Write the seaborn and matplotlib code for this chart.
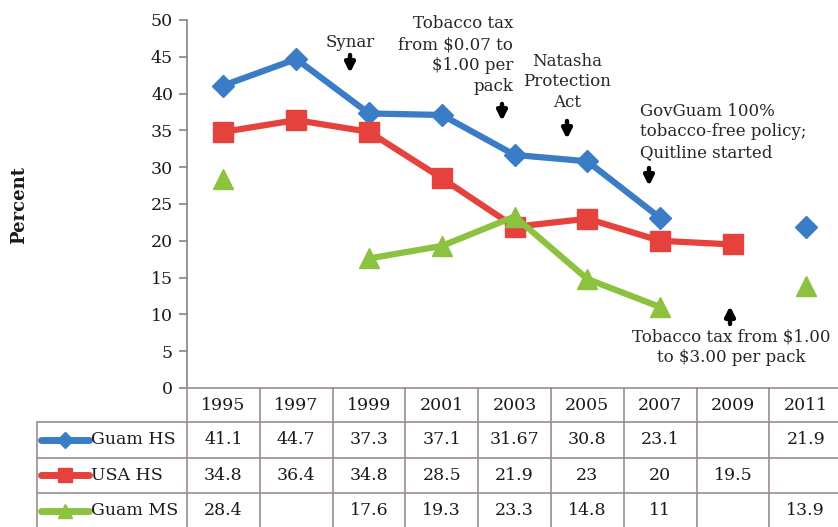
import numpy as np
import pandas as pd
import matplotlib
matplotlib.use("Agg")
import matplotlib.pyplot as plt
import seaborn as sns

# ---------------- data ----------------
years = ["1995", "1997", "1999", "2001", "2003", "2005", "2007", "2009", "2011"]
guam_hs = [41.1, 44.7, 37.3, 37.1, 31.67, 30.8, 23.1, np.nan, 21.9]
usa_hs = [34.8, 36.4, 34.8, 28.5, 21.9, 23, 20, 19.5, np.nan]
guam_ms = [28.4, np.nan, 17.6, 19.3, 23.3, 14.8, 11, np.nan, 13.9]
series_names = ["Guam HS", "USA HS", "Guam MS"]
series_values = [guam_hs, usa_hs, guam_ms]
colors = ["#3b7cc6", "#e5423e", "#8cc23f"]
markers = ["D", "s", "^"]
msizes = [11, 14, 14]
y_ticks = [0, 5, 10, 15, 20, 25, 30, 35, 40, 45, 50]

FONT = "DejaVu Serif"
FS = 12

sns.set_theme(style="white")
plt.rcParams["font.family"] = [FONT, "DejaVu Sans"]

W, H = 838, 527
fig = plt.figure(figsize=(W / 100, H / 100), dpi=100)
fig.patch.set_facecolor("white")

PL, PT, PB = 187, 20, 388     # plot area in pixels
COLW = 72.8
ncol = len(years)
ax = fig.add_axes([PL / W, (H - PB) / H, COLW * ncol / W, (PB - PT) / H])
ax.set_facecolor("white")

# long data with segment ids (lines break at missing values)
rows = []
for name, vals in zip(series_names, series_values):
    seg = 0
    prev_nan = True
    for i, v in enumerate(vals):
        if np.isnan(v):
            prev_nan = True
            continue
        if prev_nan:
            seg += 1
        prev_nan = False
        rows.append({"series": name, "x": i, "value": v, "seg": seg})
df = pd.DataFrame(rows)

for name, c, m, ms in zip(series_names, colors, markers, msizes):
    sub = df[df["series"] == name]
    sns.lineplot(data=sub, x="x", y="value", units="seg", estimator=None,
                 color=c, marker=m, markersize=ms, markeredgecolor=c,
                 markeredgewidth=1, linewidth=4.5, ax=ax, legend=False,
                 sort=True)

ax.set_xlim(-0.5, ncol - 0.5)
ax.set_ylim(0, 50)
ax.set_yticks(y_ticks)
ax.set_yticklabels([str(t) for t in y_ticks], fontsize=FS + 0.5, color="#1a1a1a")
ax.set_xticks([])
ax.set_xlabel("")
ax.set_ylabel("")
for s in ["top", "right", "bottom"]:
    ax.spines[s].set_visible(False)
ax.spines["left"].set_color("#8c8282")
ax.spines["left"].set_linewidth(1.2)
ax.tick_params(axis="y", direction="out", length=6, width=1.2, color="#8c8282", pad=4, left=True)

fig.text(19 / W, 1 - 205 / H, "Percent", rotation=90, fontsize=FS + 1, fontweight="bold",
         ha="center", va="center", color="#1a1a1a")

# ---------------- annotations ----------------
def px2x(px):
    return -0.5 + (px - PL) / COLW

def py2y(py):
    return (PB - py) * 50 / (PB - PT)

arrow_kw = dict(arrowstyle="-|>", lw=3.2, color="black", mutation_scale=14, shrinkA=0, shrinkB=0)
LS = 1.3

ax.text(px2x(350), py2y(42), "Synar", fontsize=FS, ha="center", va="center")
ax.annotate("", xy=(px2x(350), py2y(73)), xytext=(px2x(350), py2y(55)), arrowprops=arrow_kw,
            annotation_clip=False)

ax.text(px2x(513), py2y(55), "Tobacco tax\nfrom $0.07 to\n$1.00 per\npack", fontsize=FS,
        ha="right", va="center", linespacing=LS)
ax.annotate("", xy=(px2x(502), py2y(121)), xytext=(px2x(502), py2y(104)), arrowprops=arrow_kw)

ax.text(px2x(567), py2y(82), "Natasha\nProtection\nAct", fontsize=FS,
        ha="center", va="center", linespacing=LS)
ax.annotate("", xy=(px2x(567), py2y(139)), xytext=(px2x(567), py2y(121)), arrowprops=arrow_kw)

ax.text(px2x(640), py2y(132), "GovGuam 100%\ntobacco-free policy;\nQuitline started", fontsize=FS,
        ha="left", va="center", linespacing=LS)
ax.annotate("", xy=(px2x(649), py2y(186)), xytext=(px2x(649), py2y(168)), arrowprops=arrow_kw)

ax.text(px2x(731), py2y(347), "Tobacco tax from $1.00\nto $3.00 per pack", fontsize=FS,
        ha="center", va="center", linespacing=LS)
ax.annotate("", xy=(px2x(730), py2y(306)), xytext=(px2x(730), py2y(324)), arrowprops=arrow_kw)

# ---------------- data table ----------------
tab = fig.add_axes([PL / W, 0, COLW * ncol / W, (H - PB) / H])
tab.set_xlim(-0.5, ncol - 0.5)
tab.set_ylim(H, PB)
tab.axis("off")

gc = "#9b8e8e"
glw = 1.2
row_edges = [PB, 422, 457.5, 493, 528.5]
left_x = px2x(37)

for k in range(ncol + 1):
    tab.plot([k - 0.5, k - 0.5], [PB, row_edges[-1]], color=gc, lw=glw, clip_on=False)
tab.plot([-0.5, ncol - 0.5], [PB, PB], color=gc, lw=glw, clip_on=False)
for yb in row_edges[1:4]:
    tab.plot([left_x, ncol - 0.5], [yb, yb], color=gc, lw=glw, clip_on=False)
tab.plot([left_x, left_x], [row_edges[1], row_edges[-1]], color=gc, lw=glw, clip_on=False)

hy = (row_edges[0] + row_edges[1]) / 2 + 1
for i, yr in enumerate(years):
    tab.text(i, hy, yr, fontsize=FS + 0.5, ha="center", va="center", color="#1a1a1a")

for r, (name, vals, c, m, ms) in enumerate(zip(series_names, series_values, colors, markers, msizes)):
    cy = (row_edges[r + 1] + row_edges[r + 2]) / 2
    tab.plot([px2x(41), px2x(89)], [cy, cy], color=c, lw=5, clip_on=False, solid_capstyle="round")
    tab.plot([px2x(65)], [cy], color=c, marker=m, markersize=ms * 0.7, markeredgecolor=c, clip_on=False)
    tab.text(px2x(91), cy, name, fontsize=FS + 0.5, ha="left", va="center", color="#1a1a1a")
    for i, v in enumerate(vals):
        if not np.isnan(v):
            tab.text(i, cy, f"{v:g}", fontsize=FS + 0.5, ha="center", va="center", color="#1a1a1a")

fig.savefig("out.png", dpi=100, facecolor="white")
